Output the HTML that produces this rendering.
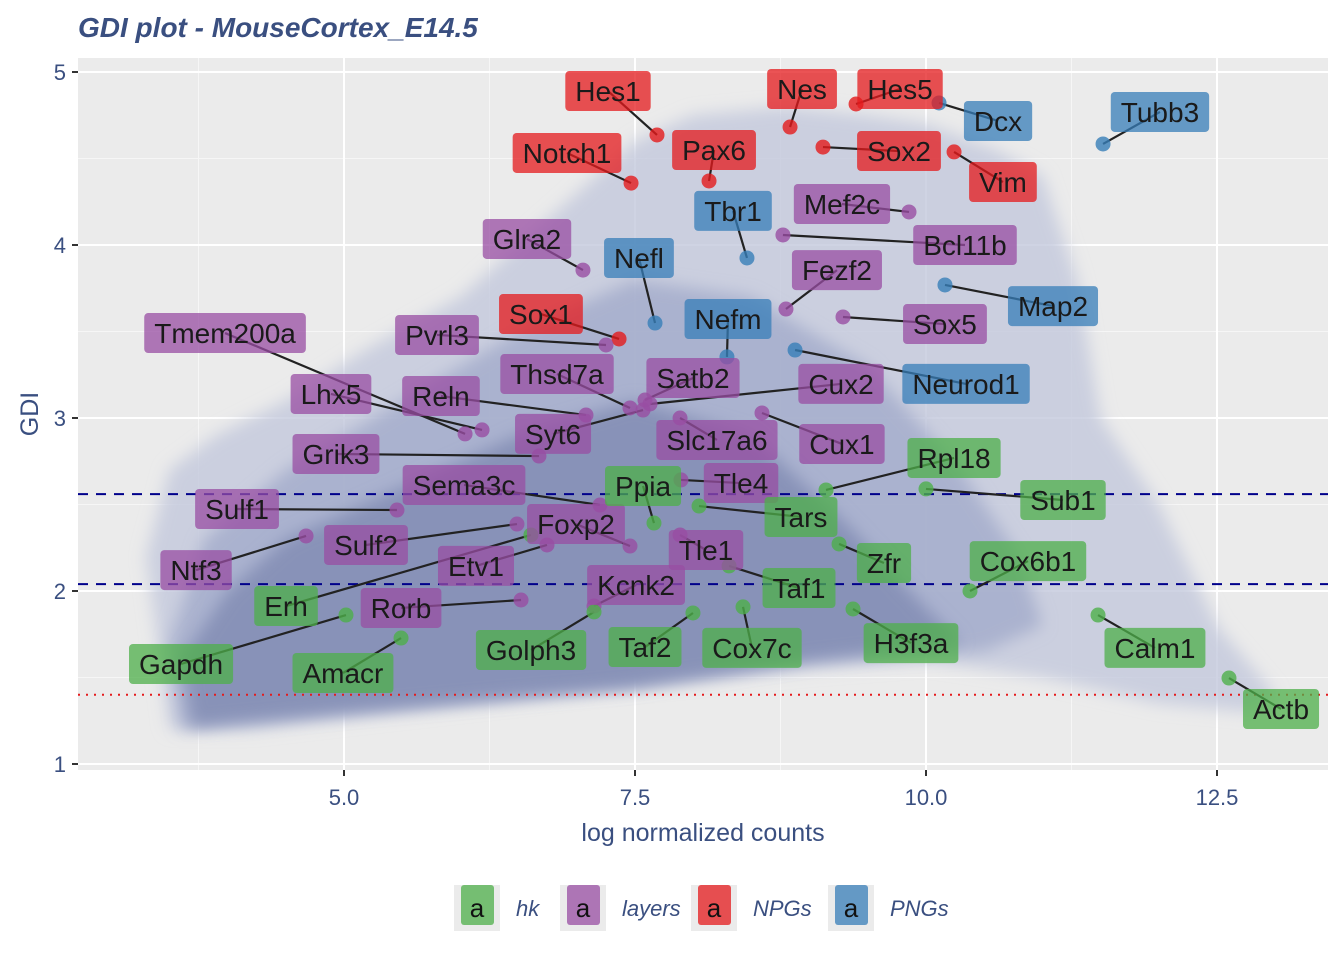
<!DOCTYPE html>
<html><head><meta charset="utf-8">
<style>
body{margin:0;background:#fff;}
svg{display:block;font-family:"Liberation Sans",sans-serif;}
</style></head>
<body>
<svg id="chart" width="1344" height="960">
<text x="78" y="37" font-size="28" font-weight="bold" font-style="italic" fill="#3a4f80">GDI plot - MouseCortex_E14.5</text>
<rect x="78" y="58" width="1250" height="712" fill="#ebebeb"/>
<defs><filter id="blur" x="-10%" y="-10%" width="120%" height="120%"><feGaussianBlur stdDeviation="8"/></filter></defs>
<g id="grid"></g>
<g id="cloud"></g>
<g id="refs"></g>
<g id="marks"></g>
<g id="axes"></g>
<g id="legend"></g>
</svg>
<script>
const NS='http://www.w3.org/2000/svg';
const xTicks=[5.0,7.5,10.0,12.5];
const xTickLabels=['5.0','7.5','10.0','12.5'];
const yTicks=[1,2,3,4,5];
const yTickLabels=['1','2','3','4','5'];
const refLines=[2.56,2.04,1.40];
// envelopes of background gene cloud [logcount, GDI]
const cloudOuterX=[3.3,3.5,3.9,4.5,5.2,6.0,6.5,7.0,7.5,8.0,8.8,9.5,10.0,10.6,11.0,11.3,11.5,12.0,12.5,13.0,12.8,12.0,11.0,10.0,9.0,7.5,5.5,4.2,3.5,3.3];
const cloudOuterY=[2.2,2.7,2.9,3.1,3.4,3.7,4.0,4.3,4.6,4.75,4.8,4.75,4.7,4.55,4.4,3.8,3.0,2.5,1.8,1.4,1.3,1.35,1.5,1.6,1.55,1.45,1.3,1.2,1.2,2.2];
const cloudMidX=[3.5,3.8,4.5,5.5,6.5,7.5,8.5,9.5,10.3,10.8,11.0,10.5,9.0,7.5,5.0,3.6];
const cloudMidY=[1.7,2.3,2.7,3.1,3.5,3.8,3.7,3.3,2.7,2.2,1.8,1.65,1.6,1.45,1.3,1.2];
const cloudCoreX=[3.6,4.0,4.5,5.5,6.5,7.5,8.5,9.3,10.0,10.3,9.0,7.5,5.0,3.7];
const cloudCoreY=[1.6,2.0,2.3,2.6,2.9,3.1,2.9,2.4,1.9,1.7,1.6,1.45,1.3,1.22];
const geneNames=['Hes1','Nes','Hes5','Notch1','Pax6','Sox2','Vim','Sox1',
'Dcx','Tubb3','Tbr1','Nefl','Nefm','Map2','Neurod1',
'Mef2c','Glra2','Bcl11b','Fezf2','Sox5','Tmem200a','Pvrl3','Thsd7a','Satb2','Cux2','Lhx5','Reln','Syt6','Slc17a6','Cux1','Grik3','Sema3c','Sulf1','Foxp2','Sulf2','Ntf3','Etv1','Kcnk2','Rorb','Tle1','Tle4',
'Ppia','Tars','Rpl18','Sub1','Zfr','Cox6b1','Taf1','Erh','Gapdh','Amacr','Golph3','Taf2','Cox7c','H3f3a','Calm1','Actb'];
const geneGroup=['NPGs','NPGs','NPGs','NPGs','NPGs','NPGs','NPGs','NPGs',
'PNGs','PNGs','PNGs','PNGs','PNGs','PNGs','PNGs',
'layers','layers','layers','layers','layers','layers','layers','layers','layers','layers','layers','layers','layers','layers','layers','layers','layers','layers','layers','layers','layers','layers','layers','layers','layers','layers',
'hk','hk','hk','hk','hk','hk','hk','hk','hk','hk','hk','hk','hk','hk','hk','hk'];
const geneX=[7.689,8.832,9.399,7.466,8.136,9.115,10.241,7.363,
10.112,11.521,8.462,7.672,8.290,10.163,8.875,
9.854,7.053,8.771,8.797,9.287,6.040,7.251,7.457,7.586,7.629,6.186,7.079,7.569,7.887,8.591,6.675,7.199,5.455,7.457,6.486,4.674,6.744,7.148,6.521,7.887,7.895,
7.663,8.050,9.141,10.0,9.253,10.378,8.308,6.606,5.017,5.490,7.148,7.998,8.428,9.373,11.478,12.603];
const geneY=[4.636,4.682,4.815,4.358,4.370,4.566,4.538,3.457,
4.821,4.584,3.925,3.549,3.353,3.769,3.393,
4.191,3.855,4.058,3.630,3.584,2.908,3.422,3.058,3.104,3.081,2.931,3.017,3.046,3.0,3.029,2.780,2.497,2.468,2.260,2.387,2.318,2.266,1.913,1.948,2.324,2.642,
2.393,2.491,2.584,2.590,2.272,2.0,2.145,2.324,1.861,1.728,1.879,1.873,1.908,1.896,1.861,1.497];
const labelX=[7.268,8.935,9.777,6.916,8.179,9.768,10.661,6.692,
10.619,12.010,8.342,7.534,8.299,11.091,10.344,
9.278,6.572,10.335,9.235,10.163,3.978,5.799,6.830,7.998,9.270,4.888,5.833,6.796,8.204,9.278,4.931,6.031,4.081,6.993,5.189,3.729,6.134,7.509,5.490,8.110,8.411,
7.569,8.926,10.241,11.177,9.639,10.876,8.909,4.502,3.600,4.991,6.607,7.586,8.505,9.871,11.967,13.050];
const labelY=[4.890,4.902,4.902,4.532,4.549,4.543,4.364,3.601,
4.717,4.769,4.197,3.925,3.572,3.647,3.197,
4.237,4.035,4.0,3.855,3.543,3.491,3.480,3.254,3.231,3.197,3.139,3.127,2.908,2.873,2.850,2.792,2.613,2.474,2.387,2.266,2.121,2.145,2.035,1.902,2.237,2.624,
2.607,2.428,2.769,2.526,2.162,2.173,2.017,1.913,1.578,1.526,1.659,1.676,1.671,1.699,1.671,1.318];
const groupNames=['hk','layers','NPGs','PNGs'];
const groupColors={hk:'#4daf4a',layers:'#984ea3',NPGs:'#e41a1c',PNGs:'#377eb8'};

const X0=78,X1=1328,Y0=58,Y1=770;
const sx=v=>344+(v-5)*116.4;
const sy=v=>72+(5-v)*173;
function mk(tag,attrs,parent){const e=document.createElementNS(NS,tag);for(const k in attrs)e.setAttribute(k,attrs[k]);parent.appendChild(e);return e;}
const grid=document.getElementById('grid');
[3.75,6.25,8.75,11.25].forEach(v=>{const l=mk('line',{x1:sx(v),x2:sx(v),y1:Y0,y2:Y1,stroke:'#f6f6f6','stroke-width':1},grid);
});
[1.5,2.5,3.5,4.5].forEach(v=>{const l=mk('line',{x1:X0,x2:X1,y1:sy(v),y2:sy(v),stroke:'#f6f6f6','stroke-width':1},grid);
});
xTicks.forEach(v=>{const l=mk('line',{x1:sx(v),x2:sx(v),y1:Y0,y2:Y1,stroke:'#fff','stroke-width':2},grid);
});
yTicks.forEach(v=>{const l=mk('line',{x1:X0,x2:X1,y1:sy(v),y2:sy(v),stroke:'#fff','stroke-width':2},grid);
});
const cloud=document.getElementById('cloud');
const pts=(xs,ys)=>xs.map((x,i)=>sx(x)+','+sy(ys[i])).join(' ');
const c1=mk('polygon',{points:pts(cloudOuterX,cloudOuterY),fill:'#c3c8dc','fill-opacity':0.8,filter:'url(#blur)'},cloud);

const c15=mk('polygon',{points:pts(cloudMidX,cloudMidY),fill:'#a3abca','fill-opacity':0.8,filter:'url(#blur)'},cloud);

const c2=mk('polygon',{points:pts(cloudCoreX,cloudCoreY),fill:'#8790b6','fill-opacity':0.95,filter:'url(#blur)'},cloud);

const refs=document.getElementById('refs');
refLines.forEach((v,i)=>{const l=mk('line',{x1:X0,x2:X1,y1:sy(v),y2:sy(v),stroke:i<2?'#00008b':'#e41a1c','stroke-width':2,'stroke-dasharray':i<2?'10,8':'2,6'},refs);
});
const marks=document.getElementById('marks');
const gSeg=mk('g',{},marks),gPts=mk('g',{},marks),gLab=mk('g',{},marks);
geneNames.forEach((n,i)=>{
  const col=groupColors[geneGroup[i]];
  const px=sx(geneX[i]),py=sy(geneY[i]);
  const c=mk('circle',{cx:px,cy:py,r:7.5,fill:col,'fill-opacity':0.8},gPts);
  
  
  const lx=sx(labelX[i]),ly=sy(labelY[i]);
  const s=mk('line',{x1:px,y1:py,x2:lx,y2:ly,stroke:'#222','stroke-width':2.2},gSeg);
  
  
  const g=mk('g',{},gLab);
  
  
  const r=mk('rect',{rx:4,fill:col,'fill-opacity':0.75},g);
  const t=mk('text',{x:lx,y:ly+10,'text-anchor':'middle','font-size':28,fill:'#1a1a1a'},g);
  t.textContent=n;
  const w=t.getComputedTextLength();
  r.setAttribute('x',lx-w/2-10);r.setAttribute('y',ly-20);r.setAttribute('width',w+20);r.setAttribute('height',40);
});
const ax=document.getElementById('axes');
xTicks.forEach((v,i)=>{mk('line',{x1:sx(v),x2:sx(v),y1:Y1,y2:Y1+6,stroke:'#333','stroke-width':2},ax);
 const t=mk('text',{x:sx(v),y:805,'text-anchor':'middle','font-size':22,fill:'#3a4f80'},ax);t.textContent=xTickLabels[i];
 });
yTicks.forEach((v,i)=>{mk('line',{x1:X0-6,x2:X0,y1:sy(v),y2:sy(v),stroke:'#333','stroke-width':2},ax);
 const t=mk('text',{x:X0-12,y:sy(v)+8,'text-anchor':'end','font-size':22,fill:'#3a4f80'},ax);t.textContent=yTickLabels[i];
 });
const xt=mk('text',{x:703,y:841,'text-anchor':'middle','font-size':25,fill:'#3a4f80'},ax);xt.textContent='log normalized counts';

const yt=mk('text',{x:38,y:414,'text-anchor':'middle','font-size':25,fill:'#3a4f80',transform:'rotate(-90 38 414)'},ax);yt.textContent='GDI';

const lg=document.getElementById('legend');
const legX=[454,560,691,828];
groupNames.forEach((g,i)=>{
  const e=mk('g',{},lg);
  
  
  const x=legX[i];
  mk('rect',{x:x,y:885,width:46,height:46,fill:'#ebebeb'},e);
  mk('rect',{x:x+7,y:885,width:33,height:40,rx:3,fill:groupColors[g],'fill-opacity':0.75},e);
  const a=mk('text',{x:x+23,y:917,'text-anchor':'middle','font-size':26,fill:'#111'},e);a.textContent='a';
  const l=mk('text',{x:x+62,y:916,'font-size':22,'font-style':'italic',fill:'#3a4f80'},e);l.textContent=g;
});
</script>
</body></html>
